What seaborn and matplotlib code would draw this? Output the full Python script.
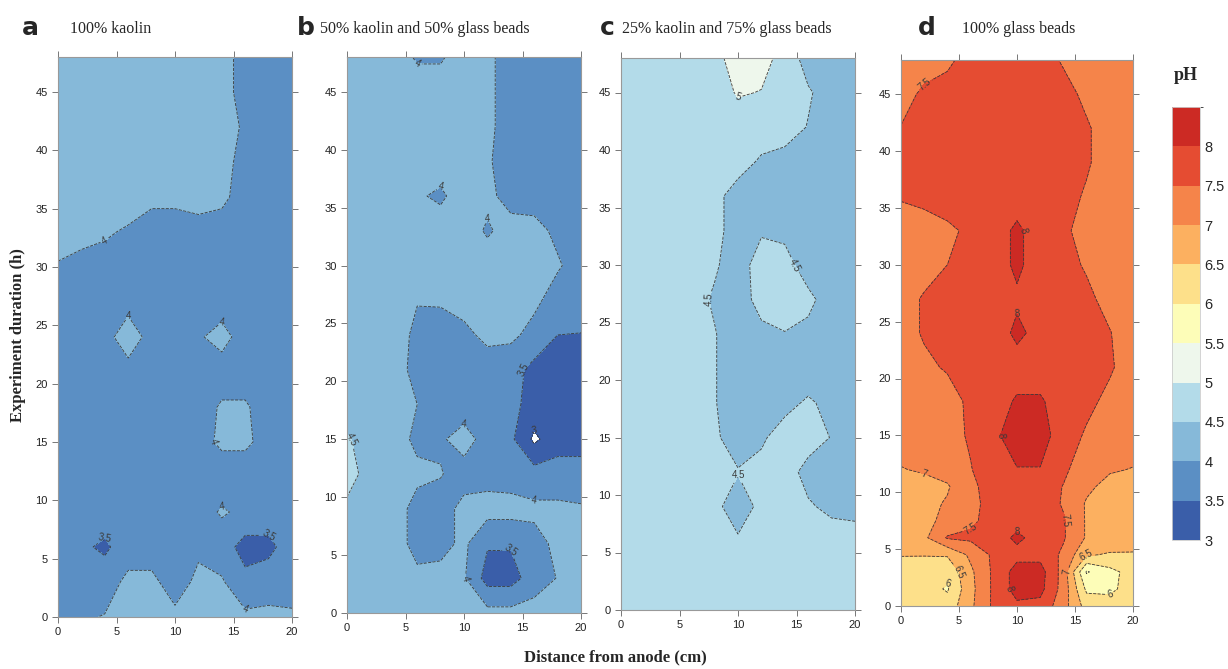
import numpy as np
import seaborn as sns
import matplotlib
matplotlib.use("Agg")
import matplotlib.pyplot as plt
from matplotlib.colors import ListedColormap, BoundaryNorm
from matplotlib.cm import ScalarMappable

# distance from anode (cm) and time (h) grids
dist = [0, 2, 4, 6, 8, 10, 12, 14, 16, 18, 20]
hours = [0, 3, 6, 9, 12, 15, 18, 21, 24, 27, 30, 33, 36, 39, 42, 45, 48]
hours_d = [0, 1.5, 3, 4.5, 6, 7.5, 9, 10.5, 12, 15, 18, 21, 24, 27, 30, 33, 36, 39, 42, 45, 48]

# pH readings, one row per time step (bottom to top)
ph_kaolin = [
    [3.8, 3.95, 4.02, 4.2, 4.25, 4.1, 4.15, 4.15, 4.1, 4.1, 4.05],
    [3.8, 3.8, 3.8, 4.1, 4.1, 3.8, 4.1, 4.05, 3.65, 3.8, 3.85],
    [3.8, 3.6, 3.4, 3.8, 3.8, 3.8, 3.92, 3.75, 3.3, 3.35, 3.8],
    [3.8, 3.8, 3.8, 3.8, 3.8, 3.8, 3.8, 4.05, 3.9, 3.8, 3.8],
    [3.8, 3.8, 3.8, 3.8, 3.8, 3.8, 3.8, 3.7, 3.7, 3.8, 3.8],
    [3.8, 3.8, 3.8, 3.8, 3.8, 3.8, 3.8, 4.1, 4.1, 3.8, 3.8],
    [3.8, 3.8, 3.8, 3.8, 3.8, 3.8, 3.8, 4.05, 4.05, 3.8, 3.8],
    [3.8, 3.8, 3.8, 3.8, 3.8, 3.8, 3.8, 3.8, 3.8, 3.8, 3.8],
    [3.8, 3.8, 3.8, 4.3, 3.8, 3.8, 3.95, 4.15, 3.8, 3.8, 3.8],
    [3.8, 3.8, 3.8, 3.8, 3.8, 3.8, 3.8, 3.8, 3.8, 3.8, 3.8],
    [3.97, 3.9, 3.85, 3.8, 3.8, 3.8, 3.8, 3.8, 3.8, 3.8, 3.8],
    [4.15, 4.1, 4.05, 3.95, 3.9, 3.9, 3.9, 3.9, 3.8, 3.8, 3.8],
    [4.3, 4.3, 4.3, 4.2, 4.05, 4.05, 4.1, 4.05, 3.9, 3.8, 3.8],
    [4.3, 4.3, 4.3, 4.3, 4.3, 4.3, 4.3, 4.1, 3.9, 3.8, 3.8],
    [4.3, 4.3, 4.3, 4.3, 4.3, 4.3, 4.3, 4.15, 3.95, 3.8, 3.8],
    [4.3, 4.3, 4.3, 4.3, 4.3, 4.3, 4.3, 4.1, 3.9, 3.8, 3.8],
    [4.3, 4.3, 4.3, 4.3, 4.3, 4.3, 4.3, 4.1, 3.9, 3.8, 3.8],
]

ph_50_50 = [
    [4.2, 4.2, 4.2, 4.2, 4.2, 4.2, 4.15, 4.15, 4.2, 4.2, 4.2],
    [4.2, 4.2, 4.2, 4.1, 4.15, 4.05, 3.3, 3.3, 3.75, 4.02, 4.2],
    [4.2, 4.2, 4.2, 3.85, 3.85, 4.1, 3.55, 3.55, 3.85, 4.1, 4.2],
    [4.4, 4.2, 4.2, 3.85, 3.85, 4.1, 4.2, 4.2, 4.1, 4.1, 4.05],
    [4.7, 4.3, 4.2, 4.1, 4.02, 3.85, 3.8, 3.75, 3.7, 3.7, 3.7],
    [4.55, 4.3, 4.2, 3.9, 3.95, 4.15, 3.85, 3.6, 2.9, 3.3, 3.3],
    [4.2, 4.2, 4.2, 4.0, 3.8, 3.8, 3.8, 3.65, 3.3, 3.3, 3.3],
    [4.2, 4.2, 4.2, 3.85, 3.8, 3.8, 3.8, 3.7, 3.35, 3.3, 3.3],
    [4.2, 4.2, 4.2, 3.9, 3.8, 3.9, 4.1, 4.1, 3.85, 3.5, 3.48],
    [4.2, 4.2, 4.2, 4.02, 4.05, 4.15, 4.2, 4.2, 4.1, 3.8, 3.8],
    [4.2, 4.2, 4.2, 4.2, 4.2, 4.2, 4.2, 4.2, 4.2, 4.05, 3.8],
    [4.2, 4.2, 4.2, 4.2, 4.2, 4.2, 3.95, 4.15, 4.15, 3.9, 3.8],
    [4.2, 4.2, 4.2, 4.05, 3.93, 4.2, 4.1, 3.85, 3.8, 3.8, 3.8],
    [4.2, 4.2, 4.2, 4.2, 4.2, 4.2, 4.05, 3.8, 3.8, 3.8, 3.8],
    [4.2, 4.2, 4.2, 4.2, 4.2, 4.2, 4.1, 3.8, 3.8, 3.8, 3.8],
    [4.2, 4.2, 4.2, 4.2, 4.2, 4.2, 4.1, 3.8, 3.8, 3.8, 3.8],
    [4.2, 4.2, 4.2, 3.95, 3.95, 4.2, 4.1, 3.8, 3.8, 3.8, 3.8],
]

ph_25_75 = [
    [4.7, 4.7, 4.7, 4.7, 4.7, 4.7, 4.7, 4.7, 4.7, 4.7, 4.7],
    [4.7, 4.7, 4.7, 4.7, 4.7, 4.7, 4.7, 4.7, 4.7, 4.7, 4.7],
    [4.7, 4.7, 4.7, 4.7, 4.7, 4.55, 4.7, 4.7, 4.7, 4.7, 4.7],
    [4.7, 4.7, 4.7, 4.7, 4.6, 4.3, 4.6, 4.7, 4.55, 4.4, 4.35],
    [4.7, 4.7, 4.7, 4.7, 4.65, 4.52, 4.6, 4.7, 4.35, 4.3, 4.3],
    [4.7, 4.7, 4.7, 4.7, 4.55, 4.35, 4.45, 4.65, 4.7, 4.48, 4.3],
    [4.7, 4.7, 4.7, 4.7, 4.52, 4.3, 4.3, 4.4, 4.55, 4.4, 4.3],
    [4.7, 4.7, 4.7, 4.7, 4.52, 4.3, 4.3, 4.3, 4.3, 4.3, 4.3],
    [4.7, 4.7, 4.7, 4.7, 4.52, 4.3, 4.4, 4.48, 4.4, 4.3, 4.3],
    [4.7, 4.7, 4.7, 4.65, 4.45, 4.3, 4.65, 4.75, 4.6, 4.3, 4.3],
    [4.7, 4.7, 4.7, 4.7, 4.55, 4.3, 4.7, 4.65, 4.3, 4.3, 4.3],
    [4.7, 4.7, 4.7, 4.7, 4.6, 4.35, 4.45, 4.4, 4.3, 4.3, 4.3],
    [4.7, 4.7, 4.7, 4.7, 4.6, 4.35, 4.3, 4.3, 4.3, 4.3, 4.3],
    [4.7, 4.7, 4.7, 4.7, 4.7, 4.65, 4.45, 4.35, 4.3, 4.3, 4.3],
    [4.7, 4.7, 4.7, 4.7, 4.7, 4.7, 4.7, 4.7, 4.48, 4.3, 4.3],
    [4.7, 4.7, 4.7, 4.7, 4.75, 5.05, 4.98, 4.75, 4.55, 4.3, 4.3],
    [4.7, 4.7, 4.7, 4.7, 4.8, 5.3, 5.2, 4.8, 4.3, 4.3, 4.3],
]

ph_glass = [
    [6.3, 6.25, 6.2, 6.9, 7.6, 7.9, 7.85, 7.2, 6.3, 6.2, 6.25],
    [6.3, 6.2, 5.95, 6.85, 7.6, 8.2, 8.15, 7.3, 5.9, 5.9, 6.2],
    [6.3, 6.25, 6.1, 6.9, 7.6, 8.2, 8.2, 7.3, 5.45, 5.85, 6.2],
    [6.52, 6.52, 6.55, 7.1, 7.6, 7.85, 7.85, 7.4, 6.55, 6.45, 6.45],
    [6.8, 6.9, 7.55, 7.6, 7.75, 8.1, 7.8, 7.55, 6.95, 6.8, 6.75],
    [6.8, 6.9, 7.1, 7.4, 7.7, 7.8, 7.8, 7.55, 6.95, 6.8, 6.8],
    [6.8, 6.85, 7.05, 7.35, 7.7, 7.8, 7.8, 7.45, 6.95, 6.8, 6.8],
    [6.8, 6.85, 6.95, 7.4, 7.7, 7.8, 7.8, 7.48, 7.1, 6.85, 6.8],
    [6.98, 7.05, 7.2, 7.48, 7.75, 7.98, 7.98, 7.6, 7.2, 7.05, 6.98],
    [7.2, 7.25, 7.35, 7.55, 7.9, 8.25, 8.25, 7.7, 7.45, 7.3, 7.25],
    [7.2, 7.25, 7.3, 7.6, 7.8, 8.05, 8.05, 7.8, 7.6, 7.4, 7.25],
    [7.2, 7.4, 7.55, 7.75, 7.75, 7.8, 7.8, 7.75, 7.7, 7.55, 7.3],
    [7.3, 7.55, 7.7, 7.75, 7.75, 8.1, 7.85, 7.75, 7.7, 7.52, 7.25],
    [7.3, 7.55, 7.7, 7.75, 7.75, 7.92, 7.8, 7.75, 7.6, 7.35, 7.2],
    [7.2, 7.3, 7.5, 7.7, 7.75, 8.1, 7.75, 7.65, 7.45, 7.2, 7.2],
    [7.2, 7.25, 7.4, 7.6, 7.75, 8.1, 7.75, 7.6, 7.3, 7.2, 7.2],
    [7.55, 7.65, 7.75, 7.75, 7.75, 7.75, 7.75, 7.65, 7.45, 7.25, 7.2],
    [7.6, 7.7, 7.75, 7.75, 7.75, 7.75, 7.75, 7.7, 7.55, 7.3, 7.2],
    [7.52, 7.65, 7.75, 7.75, 7.75, 7.75, 7.75, 7.7, 7.55, 7.3, 7.2],
    [7.3, 7.6, 7.7, 7.75, 7.75, 7.75, 7.75, 7.65, 7.4, 7.2, 7.2],
    [7.2, 7.25, 7.4, 7.7, 7.75, 7.75, 7.7, 7.45, 7.25, 7.2, 7.2],
]

panel_letters = ["a", "b", "c", "d"]
panel_titles = ["100% kaolin", "50% kaolin and 50% glass beads",
                "25% kaolin and 75% glass beads", "100% glass beads"]

ph_levels = [3, 3.5, 4, 4.5, 5, 5.5, 6, 6.5, 7, 7.5, 8, 8.5]
ph_colors = ["#3a5ea9", "#5b8fc4", "#86b9d9", "#b3dbe9", "#eef7ec", "#fdfdb8",
             "#fde08a", "#fcb060", "#f5844a", "#e54c32", "#cc2a24"]

sns.set_style("ticks")
plt.rcParams["font.family"] = ["Liberation Sans", "DejaVu Sans"]

fig = plt.figure(figsize=(12.28, 6.69), dpi=100)

W, H = 1228, 669
boxes = [(58, 57, 292, 617), (347, 57, 581, 613), (621, 58, 855, 610), (901, 60, 1133, 606)]
grids = [(dist, hours, ph_kaolin), (dist, hours, ph_50_50),
         (dist, hours, ph_25_75), (dist, hours_d, ph_glass)]
letter_x = [22, 297, 600, 918]
title_x = [70, 320, 622, 962]

cmap = ListedColormap(ph_colors)
norm = BoundaryNorm(ph_levels, cmap.N)

for i, (l, t, r, b) in enumerate(boxes):
    ax = fig.add_axes([l / W, 1 - b / H, (r - l) / W, (b - t) / H])
    xs, ys, z = grids[i]
    X, Y = np.meshgrid(xs, ys)
    Z = np.array(z)
    ax.contourf(X, Y, Z, levels=ph_levels, colors=ph_colors)
    cs = ax.contour(X, Y, Z, levels=ph_levels, colors="#3a3a3a",
                    linewidths=0.6, linestyles="--")
    ax.clabel(cs, fmt="%g", fontsize=7, inline=True, inline_spacing=2)
    ax.set_xlim(0, 20)
    ax.set_ylim(0, 48)
    ax.set_xticks([0, 5, 10, 15, 20])
    ax.set_yticks([0, 5, 10, 15, 20, 25, 30, 35, 40, 45])
    ax.tick_params(direction="out", length=4, width=0.7, colors="#777777",
                   labelcolor="#222222", labelsize=8, top=True, right=True)
    for s in ax.spines.values():
        s.set_color("#999999")
        s.set_linewidth(0.8)
    fig.text(letter_x[i] / W, 1 - 28 / H, panel_letters[i], fontsize=18,
             fontweight="bold", va="center", ha="left", family="DejaVu Sans")
    fig.text(title_x[i] / W, 1 - 29 / H, panel_titles[i], fontsize=11.5,
             va="center", ha="left", family="Liberation Serif")

fig.text(18 / W, 1 - 335 / H, "Experiment duration (h)", rotation=90,
         fontsize=12, fontweight="bold", va="center", ha="center", family="Liberation Serif")
fig.text(615 / W, 1 - 657 / H, "Distance from anode (cm)", fontsize=12,
         fontweight="bold", va="center", ha="center", family="Liberation Serif")

cax = fig.add_axes([1172 / W, 1 - 540 / H, 28 / W, 433 / H])
sm = ScalarMappable(norm=norm, cmap=cmap)
cb = fig.colorbar(sm, cax=cax, ticks=ph_levels[:-1], spacing="proportional")
cb.ax.set_yticklabels([f"{v:g}" for v in ph_levels[:-1]])
cb.ax.tick_params(length=0, labelsize=10.5, pad=3)
cb.outline.set_edgecolor("#cccccc")
cb.outline.set_linewidth(0.6)
fig.text(1186 / W, 1 - 76 / H, "pH", fontsize=13, fontweight="bold",
         ha="center", va="center", family="Liberation Serif")

fig.savefig("out.png", dpi=100)
